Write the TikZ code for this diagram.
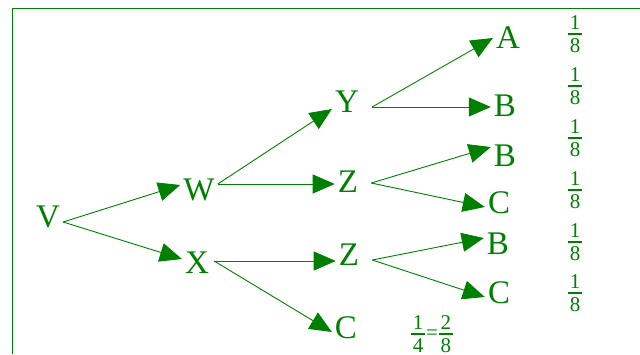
\documentclass[tikz,border=0pt]{standalone}
\usepackage{amsmath}
\usepackage{fontspec}
\setmainfont{Liberation Serif}
\usepackage{xcolor}
\usetikzlibrary{arrows.meta}
\definecolor{treegreen}{RGB}{0,128,0}
\newcommand{\prob}[2]{$\vcenter{\hbox to 14pt{\hss#1\hss}\kern3pt\hrule height 2pt\kern3.5pt\hbox to 14pt{\hss#2\hss}}$}

\begin{document}
\begin{tikzpicture}[x=1pt,y=-1pt,>={Triangle[length=22pt,width=19pt]},
  every node/.style={text=treegreen,inner sep=3pt},
  lbl/.style={font=\fontsize{33}{36}\selectfont},
  pr/.style={font=\fontsize{21}{24}\selectfont,inner sep=0pt},
  link/.style={->,draw=treegreen,line width=0.9pt}]
\useasboundingbox (0,0) rectangle (640,354);
\draw[treegreen,line width=1pt] (12,354) |- (640,8);
\node[lbl] (v) at (48,217) {V};
\node[lbl] (w) at (199,190) {W};
\node[lbl] (x) at (197,263) {X};
\node[lbl] (y) at (347,102) {Y};
\node[lbl] (z1) at (348,182) {Z};
\node[lbl] (z2) at (349,255) {Z};
\node[lbl] (c0) at (346,328) {C};
\node[lbl] (a) at (508,38) {A};
\node[lbl] (b1) at (505,106) {B};
\node[lbl] (b2) at (505,156) {B};
\node[lbl] (c1) at (499,203) {C};
\node[lbl] (b3) at (498,244) {B};
\node[lbl] (c2) at (499,293) {C};
% probabilities of each path
\node[pr] (p1) at (575,34) {\prob18};
\node[pr] (p2) at (575,86) {\prob18};
\node[pr] (p3) at (575,138) {\prob18};
\node[pr] (p4) at (575,190) {\prob18};
\node[pr] (p5) at (575,242) {\prob18};
\node[pr] (p6) at (575,293) {\prob18};
\node[pr] (pc) at (432,334) {\prob14\kern1pt=\kern1pt\prob28};
\draw[link] ([yshift=-5pt]v.east)--([yshift=5pt]w.west); \draw[link] ([yshift=-5pt]v.east)--([yshift=4pt]x.west);
\draw[link] ([yshift=6pt]w.east)--([yshift=-7pt]y.west); \draw[link] ([yshift=6pt]w.east)--([yshift=-2pt]z1.west);
\draw[link] ([xshift=2pt,yshift=2pt]x.east)--([yshift=-6pt]z2.west); \draw[link] ([xshift=2pt,yshift=2pt]x.east)--([yshift=-4pt]c0.west);
\draw[link] ([xshift=10pt,yshift=-5pt]y.east)--(a.west); \draw[link] ([xshift=10pt,yshift=-5pt]y.east)--([yshift=-1pt]b1.west);
\draw[link] ([xshift=10pt,yshift=-1pt]z1.east)--([yshift=9pt]b2.west); \draw[link] ([xshift=10pt,yshift=-1pt]z1.east)--([yshift=-4pt]c1.west);
\draw[link] ([xshift=10pt,yshift=-5pt]z2.east)--([yshift=6pt]b3.west); \draw[link] ([xshift=10pt,yshift=-5pt]z2.east)--([yshift=-4pt]c2.west);
\end{tikzpicture}
\end{document}
